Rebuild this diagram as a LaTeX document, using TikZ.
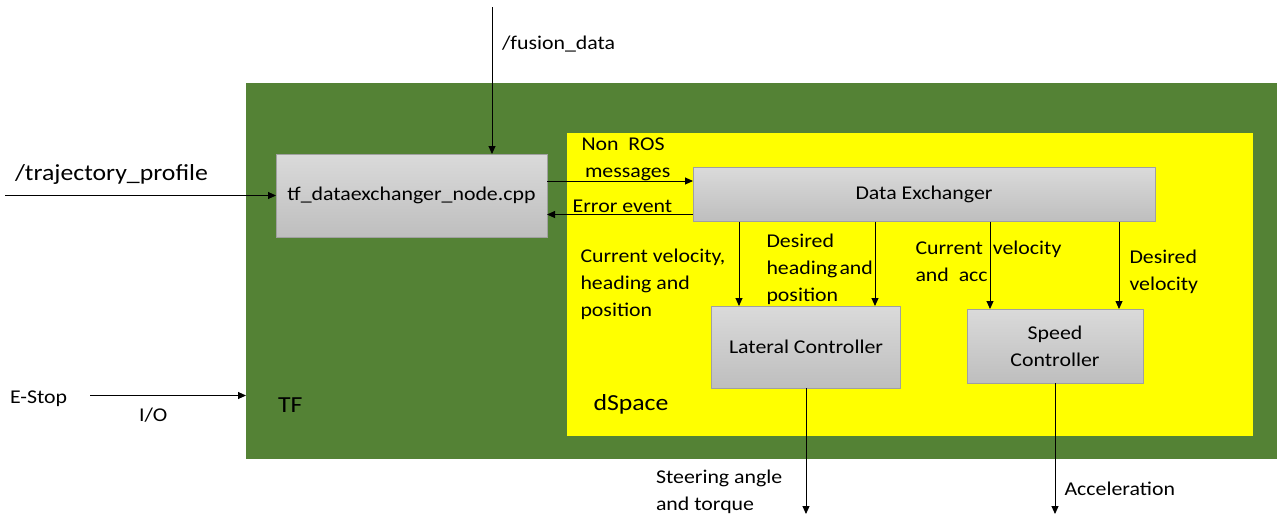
\documentclass[tikz,border=0pt]{standalone}
\usepackage{fontspec}
\setmainfont{Carlito}[FakeStretch=1.12]
\usetikzlibrary{arrows.meta}
\definecolor{tfgreen}{RGB}{84,130,53}
\definecolor{dsyellow}{RGB}{255,255,0}
\definecolor{boxtop}{RGB}{218,218,218}
\definecolor{boxbot}{RGB}{190,190,190}
\definecolor{boxline}{RGB}{160,160,160}
\begin{document}
\begin{tikzpicture}[x=1pt,y=-1pt,
  every node/.style={inner sep=0pt, outer sep=0pt},
  region/.style={anchor=north west},
  block/.style={draw=boxline, line width=0.8pt, top color=boxtop, bottom color=boxbot,
    anchor=north west, align=center, font=\fontsize{19.5}{27}\selectfont},
  % multi-line labels are placed by the baseline of their last line
  lbl/.style={anchor=base west, align=left, font=\fontsize{19.5}{27}\selectfont},
  big/.style={anchor=base west, font=\fontsize{23}{28}\selectfont},
  arr/.style={line width=0.9pt, -{Triangle[length=8pt,width=7pt]}},
]
\useasboundingbox (0,0) rectangle (1277,515);

% enclosing regions
\node[region, fill=tfgreen, minimum width=1031pt, minimum height=376pt] (tf) at (246,83) {};
\node[region, fill=dsyellow, minimum width=686pt, minimum height=303pt] (ds) at (567,132.5) {};

% processing blocks
\node[block, minimum width=271pt, minimum height=83pt] (node) at (276,154) {tf\_dataexchanger\_node.cpp};
\node[block, minimum width=462pt, minimum height=54pt] (dx) at (693,167.5) {\raisebox{-2pt}{Data Exchanger}};
\node[block, minimum width=189pt, minimum height=82pt] (lat) at (711.5,306) {Lateral Controller};
\node[block, minimum width=176pt, minimum height=74pt] (spd) at (967,309) {Speed\\Controller};

% free ends of the external signals
\coordinate (fusTop) at (492,7);
\coordinate (trajL) at (5,195.5);
\coordinate (estop) at (90,395.5);
\coordinate (steerEnd) at (806,514);
\coordinate (accEnd) at (1055,514);

% tap points on the blocks
\coordinate (nrIn) at ([yshift=13.5pt]dx.west);
\coordinate (errOut) at ([yshift=-20pt]dx.west);
\coordinate (la) at ([xshift=27.5pt]lat.north west);
\coordinate (lb) at ([xshift=163.5pt]lat.north west);
\coordinate (sa) at ([xshift=23pt]spd.north west);
\coordinate (sb) at ([xshift=152pt]spd.north west);

% connectors
\draw[arr] (fusTop) -- (fusTop |- node.north);
\draw[arr] (trajL) -- (trajL -| node.west);
\draw[arr] (nrIn -| node.east) -- (nrIn);
\draw[arr] (errOut) -- (errOut -| node.east);
\draw[arr] (la |- dx.south) -- (la);
\draw[arr] (lb |- dx.south) -- (lb);
\draw[arr] (sa |- dx.south) -- (sa);
\draw[arr] (sb |- dx.south) -- (sb);
\draw[arr] (lat.south) -- (lat.south |- steerEnd);
\draw[arr] (spd.south) -- (spd.south |- accEnd);
\draw[arr] (estop) -- (estop -| tf.west);

% labels
\node[big] at (15,180) {/trajectory\_profile};
\node[lbl] at (502,49.3) {/fusion\_data};
\node[lbl] at (581.5,177) {Non~ ROS\\\hspace*{3.5pt}messages};
\node[lbl] at (572.7,212.7) {Error event};
\node[lbl] at (580.5,316.7) {Current velocity,\\heading and\\position};
\node[lbl] at (766.5,301) {Desired\\heading\hspace{2pt}and\\position};
\node[lbl] at (915.5,281) {Current~ velocity\\and~ acc};
\node[lbl] at (1129.5,290) {Desired\\velocity};
\node[lbl] at (656,510.7) {Steering angle\\and torque};
\node[lbl] at (1064.5,495) {Acceleration};
\node[lbl] at (10,403.3) {E-Stop};
\node[lbl] at (139,421) {I/O};
\node[big] at (278,412.7) {TF};
\node[big] at (593.5,410) {dSpace};
\end{tikzpicture}
\end{document}
